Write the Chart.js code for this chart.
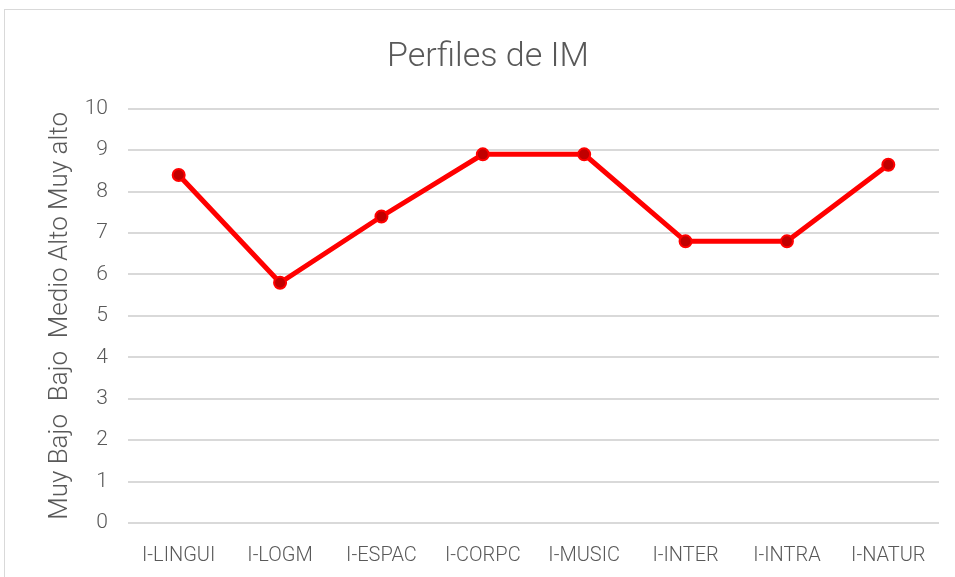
<!DOCTYPE html>
<html lang="es">
<head>
  <meta charset="UTF-8">
  <title>Perfiles de IM</title>
  <script src="https://cdn.jsdelivr.net/npm/chart.js"></script>
  <style>
    body {
      margin: 0;
      background: #fff;
      overflow: hidden;
    }
    .frame {
      position: absolute;
      left: 4px;
      top: 9px;
      width: 960px;
      height: 580px;
      border: 1px solid #d9d9d9;
      box-sizing: border-box;
    }
    .chart-box {
      position: absolute;
      left: 0;
      top: 0;
      width: 955px;
      height: 577px;
    }
  </style>
</head>
<body>
  <div class="frame"></div>
  <div class="chart-box">
    <canvas id="chart-line"></canvas>
  </div>

  <script>
    const categories = ['I-LINGUI', 'I-LOGM', 'I-ESPAC', 'I-CORPC', 'I-MUSIC', 'I-INTER', 'I-INTRA', 'I-NATUR'];
    const scores = [8.4, 5.8, 7.4, 8.9, 8.9, 6.8, 6.8, 8.65];
    const yTicks = [0, 1, 2, 3, 4, 5, 6, 7, 8, 9, 10];

    const ctx = document.getElementById('chart-line').getContext('2d');
    new Chart(ctx, {
      type: 'line',
      data: {
        labels: categories,
        datasets: [{
          label: 'Perfiles de IM',
          data: scores,
          borderColor: '#ff0000',
          borderWidth: 5,
          pointRadius: 6,
          pointBackgroundColor: '#c00000',
          pointBorderColor: '#ff0000',
          pointBorderWidth: 2,
          tension: 0
        }]
      },
      options: {
        responsive: true,
        maintainAspectRatio: false,
        animation: false,
        layout: {
          padding: { left: 37, right: 16, top: 37, bottom: 0 }
        },
        plugins: {
          legend: { display: false },
          tooltip: { enabled: false },
          title: {
            display: true,
            text: 'Perfiles de IM',
            color: '#595959',
            font: { family: 'Roboto', size: 34, weight: '300' },
            padding: { top: 0, bottom: 31 }
          }
        },
        scales: {
          x: {
            offset: true,
            afterFit: axis => { axis.height = 54; },
            grid: { display: false },
            border: { display: false },
            ticks: {
              color: '#595959',
              padding: 13,
              maxRotation: 0,
              font: { family: 'Roboto', size: 20, weight: '300' }
            }
          },
          y: {
            min: 0,
            max: 10,
            afterFit: axis => { axis.width = 91; },
            afterBuildTicks: axis => {
              axis.ticks = yTicks.map(v => ({ value: v }));
            },
            grid: { color: '#d9d9d9', lineWidth: 2, drawTicks: false },
            border: { display: false },
            ticks: {
              color: '#595959',
              padding: 20,
              font: { family: 'Roboto', size: 21, weight: '300' }
            },
            title: {
              display: true,
              text: 'Muy Bajo  Bajo  Medio Alto Muy alto',
              color: '#595959',
              padding: { top: 8, bottom: 0 },
              font: { family: 'Roboto', size: 26, weight: '300' }
            }
          }
        }
      }
    });
  </script>
</body>
</html>
